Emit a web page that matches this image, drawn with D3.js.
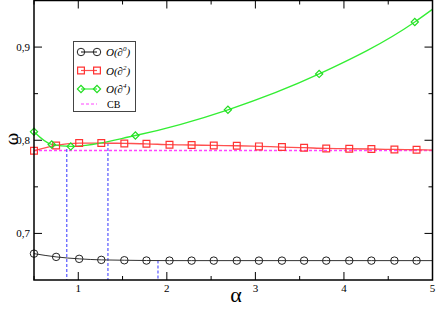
<!DOCTYPE html>
<html>
<head>
<meta charset="utf-8">
<script src="https://cdn.jsdelivr.net/npm/d3@7"></script>
<style>
  body { margin: 0; background: #fff; }
</style>
</head>
<body>
<div id="chart"></div>
<script>
// data
var alphaPts = [0.5, 0.75, 1.01, 1.26, 1.52, 1.77, 2.03, 2.28, 2.53, 2.79, 3.04, 3.3, 3.55, 3.8, 4.06, 4.31, 4.57, 4.82];
var omega0 = [0.6783, 0.6748, 0.6727, 0.6716, 0.6712, 0.6709, 0.6708, 0.6708, 0.6708, 0.6708, 0.6708, 0.6708, 0.6708, 0.6708, 0.6708, 0.6708, 0.6708, 0.6708];
var omega2 = [0.7887, 0.7944, 0.797, 0.797, 0.7966, 0.7962, 0.7952, 0.7949, 0.7944, 0.7941, 0.7934, 0.7927, 0.792, 0.7912, 0.7909, 0.7906, 0.7901, 0.7898];
var alpha4 = [0.5, 0.7, 0.915, 1.645, 2.69, 3.72, 4.8];
var omega4 = [0.8091, 0.7955, 0.7934, 0.8051, 0.8327, 0.8712, 0.927];
var lineEnd = { a: 5, w0: 0.6708, w2: 0.7895, w4: 0.9406 };
var omegaCB = 0.7891;
var markAlpha = [0.87, 1.335, 1.9];
var markOmega = [0.7906, 0.797, 0.6708];
var xMajor = [1, 2, 3, 4];
var xMinor = [0.5, 1.5, 2.5, 3.5, 4.5];
var yMajor = [0.7, 0.8, 0.9];
var yMinor = [0.75, 0.85];
var legendLabels = ["0", "2", "4"];

var width = 436, height = 309;
var x0 = 34, x1 = 432.5, yTop = 0.5, yBot = 280;
var serif = "'Liberation Serif', 'DejaVu Serif', serif";

var svg = d3.select("#chart").append("svg")
        .attr("width", width)
        .attr("height", height)
        .attr("font-family", serif);

var x = d3.scaleLinear().domain([0.5, 5]).range([x0, x1]);
var y = d3.scaleLinear().domain([0.65, 0.95]).range([yBot, yTop]);

var fmt = function (d) { return d3.format(".1f")(d).replace(".", ","); };

// ticks, all pointing inward, mirrored on top and right
var g = svg.append("g");
function tickLines(vals, len, horiz) {
    vals.forEach(function (v) {
        if (horiz) {
            g.append("line").attr("x1", x(v)).attr("x2", x(v)).attr("y1", yBot).attr("y2", yBot - len)
                    .attr("stroke", "#000").attr("stroke-width", 1);
            g.append("line").attr("x1", x(v)).attr("x2", x(v)).attr("y1", yTop).attr("y2", yTop + len)
                    .attr("stroke", "#000").attr("stroke-width", 1);
        } else {
            g.append("line").attr("y1", y(v)).attr("y2", y(v)).attr("x1", x0).attr("x2", x0 + len)
                    .attr("stroke", "#000").attr("stroke-width", 1);
            g.append("line").attr("y1", y(v)).attr("y2", y(v)).attr("x1", x1).attr("x2", x1 - len)
                    .attr("stroke", "#000").attr("stroke-width", 1);
        }
    });
}
tickLines(xMajor, 8, true);
tickLines(xMinor, 4, true);
tickLines(yMajor, 8, false);
tickLines(yMinor, 4, false);

xMajor.concat([5]).forEach(function (v) {
    g.append("text").attr("x", x(v)).attr("y", 292)
            .attr("text-anchor", "middle").attr("font-size", 11).text(v);
});
yMajor.forEach(function (v) {
    g.append("text").attr("x", 30).attr("y", y(v) + 4)
            .attr("text-anchor", "end").attr("font-size", 11).text(fmt(v));
});

// axis titles
svg.append("text").attr("x", 236).attr("y", 302).attr("text-anchor", "middle")
        .attr("font-size", 22).text("α");
svg.append("text").attr("transform", "translate(18,139) rotate(-90)")
        .attr("text-anchor", "middle").attr("font-size", 19).text("ω");

// clip the curves to the frame
svg.append("clipPath").attr("id", "clip").append("rect")
        .attr("x", x0).attr("y", yTop).attr("width", x1 - x0).attr("height", yBot - yTop);
var plot = svg.append("g").attr("clip-path", "url(#clip)");

// CB line
plot.append("line").attr("x1", x0).attr("x2", x1).attr("y1", y(omegaCB)).attr("y2", y(omegaCB))
        .attr("stroke", "#ff44ff").attr("stroke-width", 1.5).attr("stroke-dasharray", "3,2");

// blue drop lines
markAlpha.forEach(function (a, i) {
    plot.append("line").attr("x1", x(a)).attr("x2", x(a)).attr("y1", y(markOmega[i])).attr("y2", yBot)
            .attr("stroke", "#5555ff").attr("stroke-width", 1.2).attr("stroke-dasharray", "3,2");
});

var line = d3.line().x(function (d) { return x(d[0]); }).y(function (d) { return y(d[1]); })
        .curve(d3.curveMonotoneX);

var pts0 = alphaPts.map(function (a, i) { return [a, omega0[i]]; });
var pts2 = alphaPts.map(function (a, i) { return [a, omega2[i]]; });
var pts4 = alpha4.map(function (a, i) { return [a, omega4[i]]; });

plot.append("path").attr("d", line(pts0.concat([[lineEnd.a, lineEnd.w0]])))
        .attr("fill", "none").attr("stroke", "#333").attr("stroke-width", 1);
plot.append("path").attr("d", line(pts2.concat([[lineEnd.a, lineEnd.w2]])))
        .attr("fill", "none").attr("stroke", "#ff5050").attr("stroke-width", 1.3);
plot.append("path").attr("d", line(pts4.concat([[lineEnd.a, lineEnd.w4]])))
        .attr("fill", "none").attr("stroke", "#33ee33").attr("stroke-width", 1.3);

var circ = d3.symbol().type(d3.symbolCircle).size(44);
var sq = d3.symbol().type(d3.symbolSquare).size(46);
var dia = d3.symbol().type(d3.symbolSquare).size(26);

function markers(pts, sym, col, sw, rot) {
    svg.selectAll(null).data(pts).enter().append("path")
            .attr("transform", function (d) {
                return "translate(" + x(d[0]) + "," + y(d[1]) + ")" + (rot ? " rotate(45)" : "");
            })
            .attr("d", sym)
            .attr("fill", "none").attr("stroke", col).attr("stroke-width", sw);
}
markers(pts0, circ, "#222", 1);
markers(pts2, sq, "#ff3333", 1.2);
markers(pts4, dia, "#22dd22", 1.2, true);

// frame
svg.append("rect").attr("x", x0).attr("y", yTop).attr("width", x1 - x0).attr("height", yBot - yTop)
        .attr("fill", "none").attr("stroke", "#000").attr("stroke-width", 1.5);

// legend
var legend = svg.append("g");
legend.append("rect").attr("x", 73.5).attr("y", 41.5).attr("width", 62).attr("height", 70)
        .attr("fill", "#fff").attr("stroke", "#444").attr("stroke-width", 1);
var legRows = [
    { y: 52, col: "#333", mcol: "#222", sym: circ, sw: 1, rot: false },
    { y: 70.5, col: "#ff5050", mcol: "#ff3333", sym: sq, sw: 1.2, rot: false },
    { y: 89, col: "#33ee33", mcol: "#22dd22", sym: dia, sw: 1.2, rot: true }
];
legRows.forEach(function (r, i) {
    legend.append("line").attr("x1", 81).attr("x2", 97).attr("y1", r.y).attr("y2", r.y)
            .attr("stroke", r.col).attr("stroke-width", 1.2);
    [81, 97].forEach(function (mx) {
        legend.append("path").attr("transform", "translate(" + mx + "," + r.y + ")" + (r.rot ? " rotate(45)" : ""))
                .attr("d", r.sym).attr("fill", "none").attr("stroke", r.mcol).attr("stroke-width", r.sw);
    });
    var t = legend.append("text").attr("x", 106).attr("y", r.y + 4).attr("font-size", 11)
            .attr("font-style", "italic");
    t.append("tspan").text("O(∂");
    t.append("tspan").attr("dy", -5).attr("font-size", 7).text(legendLabels[i]);
    t.append("tspan").attr("dy", 5).text(")");
});
legend.append("line").attr("x1", 81).attr("x2", 97).attr("y1", 104).attr("y2", 104)
        .attr("stroke", "#ff44ff").attr("stroke-width", 1).attr("stroke-dasharray", "3,2");
legend.append("text").attr("x", 107).attr("y", 107.5).attr("font-size", 10).text("CB");
</script>
</body>
</html>
